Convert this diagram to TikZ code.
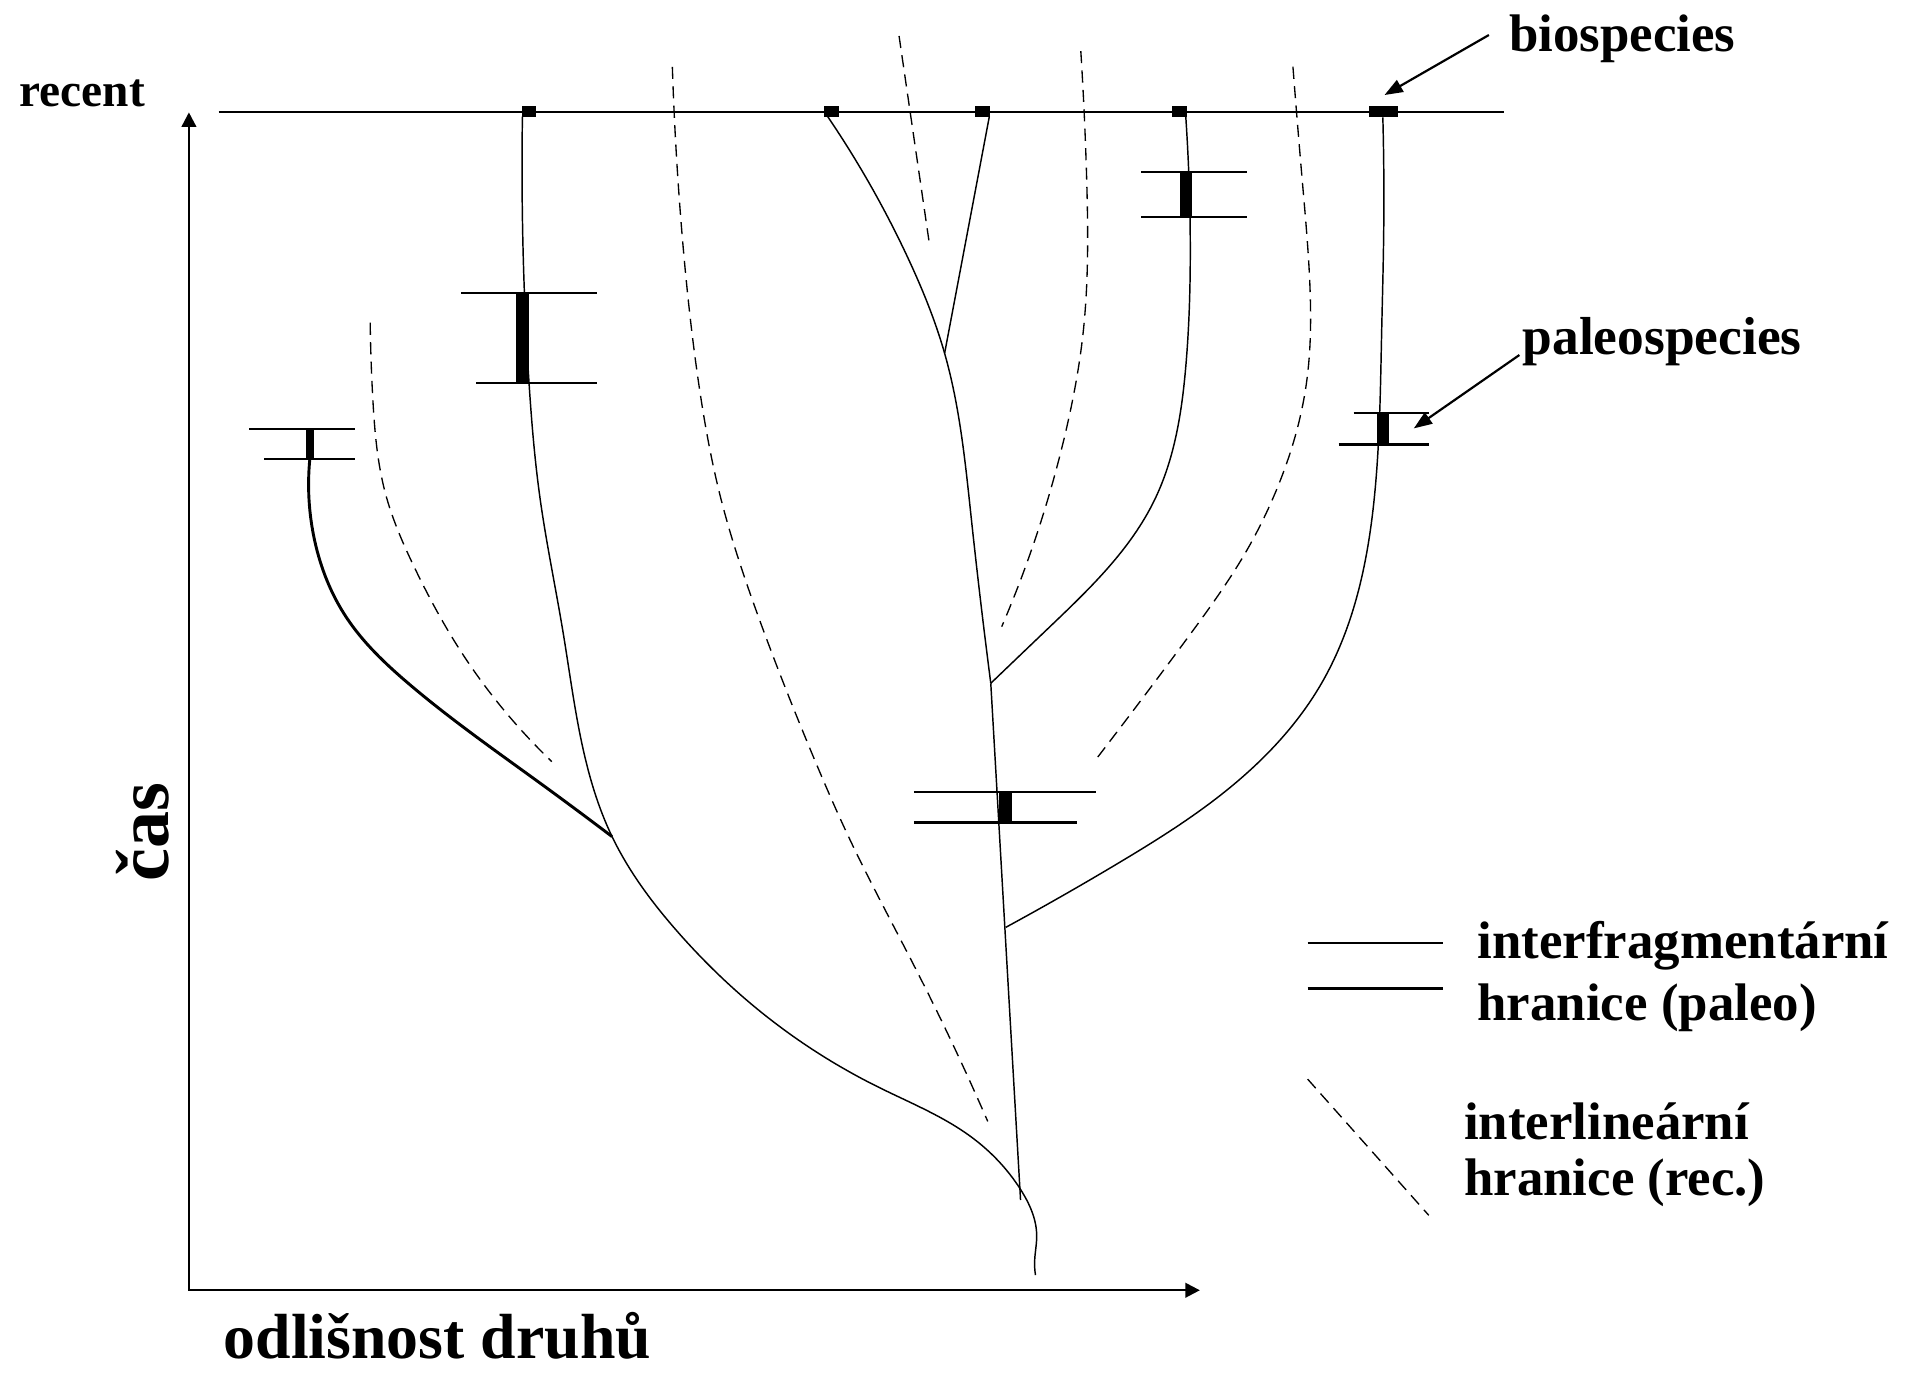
\documentclass[tikz,border=0pt]{standalone}
\usepackage{fontspec}
\setmainfont{Liberation Serif}
\usetikzlibrary{arrows.meta,hobby}
\begin{document}
\begin{tikzpicture}[x=1pt,y=-1pt,
  thinln/.style={line width=1.2pt, line join=round, use Hobby shortcut},
  thickln/.style={line width=2.4pt, line join=round, use Hobby shortcut},
  dashln/.style={line width=1.1pt, dash pattern=on 10pt off 6pt, use Hobby shortcut},
  barln/.style={line width=1.8pt},
  axisln/.style={line width=2pt, {Triangle[length=12pt,width=12pt]}-{Triangle[length=12pt,width=12pt]}},
  pointer/.style={line width=1.8pt, -{Triangle[length=15pt,width=11pt]}},
  lbl/.style={font=\bfseries\fontsize{43.5}{50}\selectfont, inner sep=0pt, anchor=base west},
  species/.style={fill=black, draw=none, inner sep=0pt, minimum height=9.4pt, minimum width=12pt},
]
\useasboundingbox (0,0) rectangle (1568,1130);

% axes
\coordinate (O) at (155.5,1062);
\coordinate (ytip) at (155.5,92.5);
\coordinate (xtip) at (987.6,1062);
\draw[axisln] (ytip) -- (O) -- (xtip);

% recent line
\coordinate (rl) at (180,92);
\coordinate (rr) at (1237.6,92);
\draw[line width=1.3pt] (rl) -- (rr);

% biospecies marks
\node[species] (s1) at (435.5,92) {};
\node[species] (s2) at (684.4,92) {};
\node[species] (s3) at (808.8,92) {};
\node[species] (s4) at (970.6,92) {};
\node[species, minimum width=24pt] (s5) at (1138.6,92) {};

% junction points
\coordinate (jA) at (503.8,688.6);
\coordinate (jB) at (777.5,290.8);
\coordinate (jC) at (815.5,562.4);
\coordinate (jD) at (828,763.2);

% trunk
\draw[thinln] (681.3,96) .. (748.1,214) .. (777.5,290.8) .. (799.6,428) .. (jC);
\draw[thinln] (jC) -- (840,987.7);
\draw[thinln] (814.3,96) -- (jB);

% big left branch
\draw[thinln] (430,96) .. (435.5,316) .. (444.7,411.5) .. (463.6,521.3) .. (jA) .. (557.8,767) .. (623.3,830.5) .. (721.8,894.2) .. (800.5,936.6) .. (840,979) .. (853.3,1017) .. (851.6,1038) .. (852.3,1049.5);

% thick short branch
\draw[thickln] (255,378) .. (259,445) .. (285,508) .. (336,562.4) .. (444.7,644.7) .. (jA);

% branch from 970
\draw[thinln] (976,96) .. (979.7,200) .. (976,301.8) .. (950.3,411.5) .. (864.2,515.8) .. (jC);

% branch from 1138
\draw[thinln] (1138.2,96.6) .. (1138.9,192) .. (1137.2,274.4) .. (1131,411.5) .. (1087.4,563) .. (1004.2,654.8) .. (921.2,710) .. (jD);

% dashed (interlinear) boundaries
\draw[dashln] (304.7,265.6) .. (306.9,329) .. (317.2,406) .. (340.8,466.4) .. (378.6,535) .. (454.2,626.9);
\draw[dashln] (553.4,55) .. (562,200) .. (575,315) .. (593,409) .. (624,507) .. (667,617) .. (700,692) .. (755,800) .. (813,923);
\draw[dashln] (740,29.6) -- (765.4,203.6);
\draw[dashln] (889.6,42) .. (894.5,150) .. (891.5,274) .. (876.8,357) .. (824.5,515.8);
\draw[dashln] (1064.2,54.9) .. (1072,150) .. (1078.1,233.2) .. (1075.3,315.5) .. (1049.5,406) .. (1026.4,452.7) .. (976.6,526.2) .. (901.8,625.4);

% paleospecies boundaries (bars)
\draw[barln] (205,353) -- (292,353);
\draw[barln] (217.6,378) -- (292,378);
\fill (251.7,353) rectangle (258.3,378);

\draw[barln] (379.6,241) -- (491.4,241);
\draw[barln] (392,315.5) -- (491.4,315.5);
\fill (424.5,241) rectangle (435.5,315.5);

\draw[barln] (939.2,141.3) -- (1026.7,141.3);
\draw[barln] (939.2,178.6) -- (1026.7,178.6);
\fill (971.5,141.3) rectangle (981.5,178.6);

\draw[barln] (1114.2,340.2) -- (1176.1,340.2);
\draw[barln] (1101.8,365.8) -- (1176.1,365.8);
\fill (1133.8,340.2) rectangle (1143.4,365.8);

\draw[barln] (752.3,652) -- (901.8,652);
\draw[barln] (752.3,677) -- (886.7,677);
\fill (822.6,652) rectangle (832.6,677);

% labels
\node[lbl, font=\bfseries\fontsize{39}{45}\selectfont] (recent) at (16,88) {recent};
\node[lbl] (bio) at (1242,42) {biospecies};
\node[lbl, font=\bfseries\fontsize{44}{50}\selectfont] (paleo) at (1253,292) {paleospecies};
\node[lbl, font=\bfseries\fontsize{61}{68}\selectfont, rotate=90] (cas) at (138.5,726) {čas};
\node[lbl, font=\bfseries\fontsize{52.5}{60}\selectfont] (odl) at (184,1118) {odlišnost druhů};

% pointers
\coordinate (bioT) at (1225.5,28.8);
\coordinate (bioH) at (1139.6,78.2);
\coordinate (paleoT) at (1250.6,292.2);
\coordinate (paleoH) at (1163.7,352.6);
\draw[pointer] (bioT) -- (bioH);
\draw[pointer] (paleoT) -- (paleoH);

% legend
\coordinate (l1a) at (1076.3,776.1);
\coordinate (l1b) at (1188,776.1);
\coordinate (l2a) at (1076.3,813.6);
\coordinate (l2b) at (1188,813.6);
\draw[barln] (l1a) -- (l1b);
\draw[barln] (l2a) -- (l2b);
\coordinate (l3a) at (1076.3,888.2);
\coordinate (l3b) at (1176,1000.3);
\draw[dashln] (l3a) -- (l3b);
\node[lbl] (lg1) at (1216,789) {interfragmentární};
\node[lbl] (lg2) at (1216,840) {hranice (paleo)};
\node[lbl] (lg3) at (1205,938) {interlineární};
\node[lbl] (lg4) at (1205,984) {hranice (rec.)};
\end{tikzpicture}
\end{document}
